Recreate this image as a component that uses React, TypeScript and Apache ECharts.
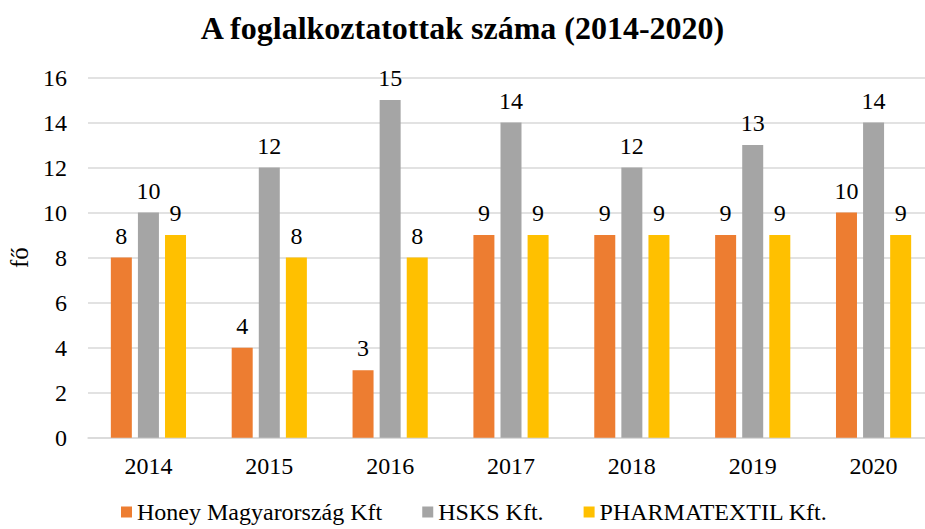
import React, { useEffect, useRef } from "react";
import * as echarts from "echarts";

const years = ["2014", "2015", "2016", "2017", "2018", "2019", "2020"];
const honey = [8, 4, 3, 9, 9, 9, 10];
const hsks = [10, 12, 15, 14, 12, 13, 14];
const pharma = [9, 8, 8, 9, 9, 9, 9];
const seriesNames = ["Honey Magyarország Kft", "HSKS Kft.", "PHARMATEXTIL Kft."];
const colors = ["#ED7D31", "#A5A5A5", "#FFC000"];

const FONT = "'Liberation Serif', 'Times New Roman', serif";

export default function App() {
  const ref = useRef<HTMLDivElement>(null);
  useEffect(() => {
    if (!ref.current) return;
    const chart = echarts.init(ref.current, undefined, { renderer: "svg" });
    const label = {
      show: true,
      position: "top",
      distance: 10,
      color: "#000",
      fontSize: 24,
      fontFamily: FONT,
    };
    const mk = (name: string, data: number[], color: string) => ({
      name,
      type: "bar",
      data,
      barWidth: 21,
      barGap: "29%",
      itemStyle: { color },
      label,
    });
    chart.setOption({
      animation: false,
      textStyle: { fontFamily: FONT },
      title: {
        text: "A foglalkoztatottak száma (2014-2020)",
        left: "center",
        top: 7,
        textStyle: { fontFamily: FONT, fontWeight: "bold", fontSize: 32, color: "#000" },
      },
      legend: {
        bottom: 0,
        left: 116,
        itemWidth: 11,
        itemHeight: 11,
        itemGap: 40,
        icon: "rect",
        textStyle: { fontFamily: FONT, fontSize: 24, color: "#000" },
        data: seriesNames,
      },
      grid: {
        left: 88,
        right: -9,
        top: 77.5,
        bottom: 91.3,
        containLabel: false,
        outerBoundsMode: "none",
      },
      xAxis: {
        type: "category",
        data: years,
        axisLine: { show: true, lineStyle: { color: "#D9D9D9", width: 1.5 } },
        axisTick: { show: false },
        axisLabel: { color: "#000", fontSize: 24, fontFamily: FONT, margin: 16 },
      },
      yAxis: {
        type: "value",
        min: 0,
        max: 16,
        interval: 2,
        name: "fő",
        nameLocation: "middle",
        nameRotate: 90,
        nameGap: 56,
        nameTextStyle: { color: "#000", fontSize: 25, fontFamily: FONT },
        axisLine: { show: false },
        axisTick: { show: false },
        axisLabel: { color: "#000", fontSize: 24, fontFamily: FONT, margin: 21 },
        splitLine: { lineStyle: { color: "#D9D9D9", width: 1.5 } },
      },
      series: [
        mk(seriesNames[0], honey, colors[0]),
        mk(seriesNames[1], hsks, colors[1]),
        mk(seriesNames[2], pharma, colors[2]),
      ],
    });
    return () => chart.dispose();
  }, []);
  return <div ref={ref} style={{ width: 925, height: 529, position: "absolute", left: 0, top: 0, background: "#fff" }} />;
}
